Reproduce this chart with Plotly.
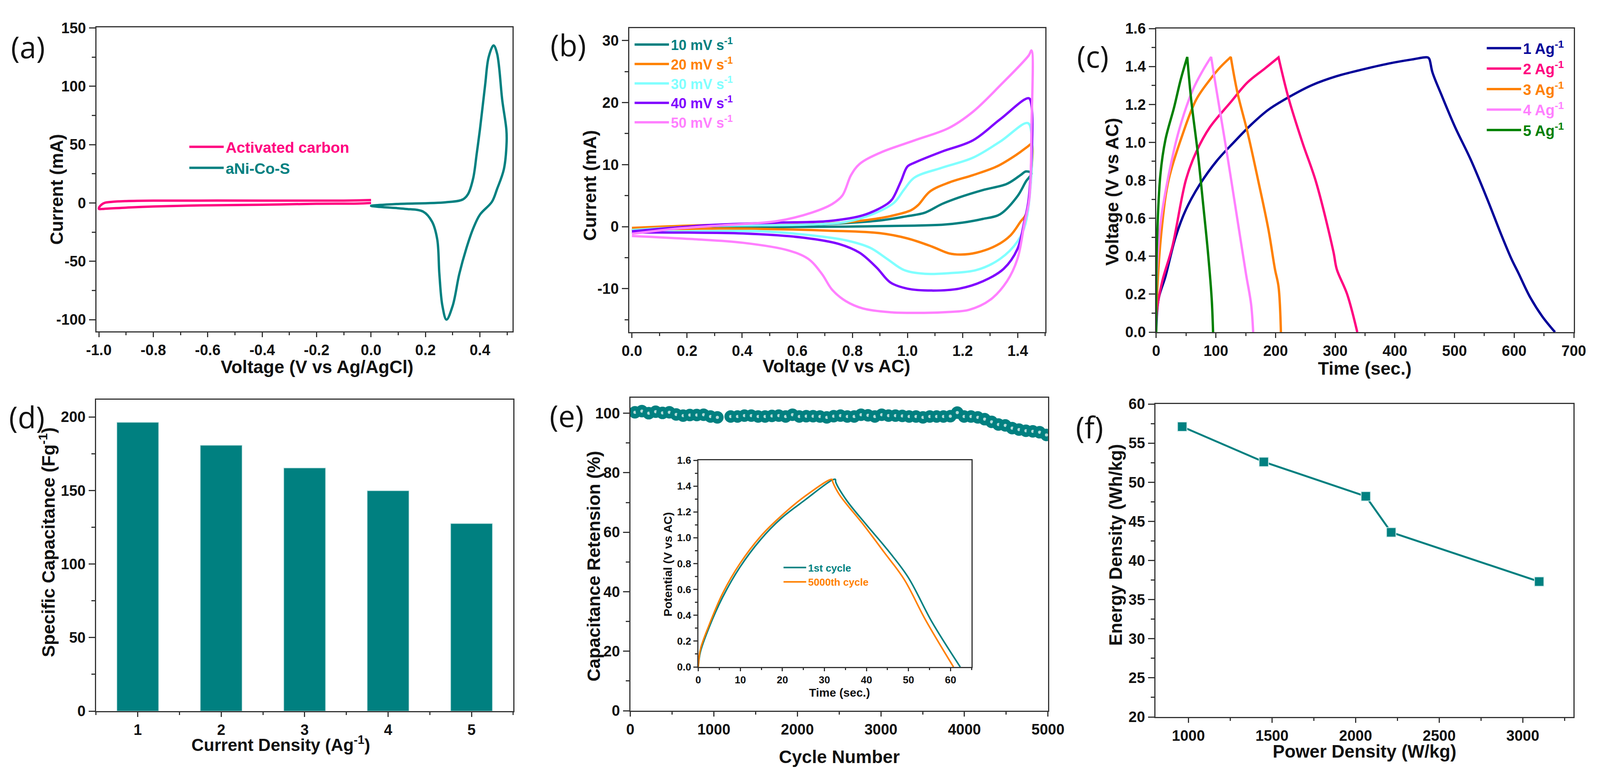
import plotly.graph_objects as go

W, H = 4168, 1981
TEAL = "#008080"
ORANGE = "#ff8000"
CYAN = "#80ffff"
PURPLE = "#8000ff"
PINK = "#ff80ff"
HOTPINK = "#ff0080"
BLUE = "#000099"
GREEN = "#008000"
AXIS = "#333333"
FONT = "Liberation Sans"

# (a) cyclic voltammograms
ac_x = [0, -0.1, -0.4, -0.8, -0.9, -0.95, -0.98, -0.995, -1.0, -0.98, -0.9, -0.8, -0.6, -0.4, -0.2, -0.05, 0]
ac_y = [2.5, 2, 2, 2, 1.6, 1, 0, -2.5, -5, -5, -4, -3, -2, -1.5, -0.7, -0.5, 0]
nico_x = [0, 0.085, 0.274, 0.337, 0.356, 0.375, 0.388, 0.4, 0.419, 0.432, 0.45, 0.463, 0.482, 0.497, 0.498, 0.488,
          0.463, 0.444, 0.4, 0.375, 0.35, 0.324, 0.3, 0.277, 0.262, 0.251, 0.243, 0.224, 0.192, 0.123, 0.022, 0]
nico_y = [-2.5, -1, 0.6, 3, 7.5, 21, 42, 63, 101, 125, 135, 128, 88, 63, 52, 29,
          12, 1, -10, -22, -39, -61, -88, -100, -88, -61, -31, -16, -7.5, -5, -3.2, -2.5]

# (b) CV at several scan rates
cv10_x = [0, 0.3, 0.6, 0.9, 1.0, 1.063, 1.125, 1.187, 1.274, 1.361, 1.41, 1.43, 1.45, 1.43, 1.399, 1.336, 1.274, 1.2, 1.125, 1.0, 0.776, 0.528, 0.34, 0]
cv10_y = [-0.5, -0.1, 0.2, 1, 1.7, 2.25, 3.65, 4.7, 5.9, 6.9, 8.3, 8.9, 8.6, 7.3, 4.9, 2, 1.25, 0.65, 0.3, 0.15, 0, -0.05, -0.05, -0.55]
cv20_x = [0, 0.28, 0.528, 0.714, 0.84, 0.938, 1.013, 1.038, 1.081, 1.15, 1.237, 1.324, 1.399, 1.436, 1.45, 1.449, 1.43, 1.411, 1.374, 1.324, 1.25, 1.193, 1.15, 1.088, 1.0, 0.9, 0.714, 0.465, 0.316, 0]
cv20_y = [-0.2, 0.25, 0.25, 0.5, 1, 1.7, 2.65, 3.45, 5.65, 7.1, 8.3, 9.7, 11.7, 12.9, 13.3, 8.5, 2, 0.85, -1.4, -3, -4.2, -4.5, -4.3, -3.2, -1.9, -1.05, -0.65, -0.35, -0.3, -0.55]
cv30_x = [0, 0.28, 0.652, 0.776, 0.876, 0.951, 0.988, 1.025, 1.125, 1.237, 1.336, 1.436, 1.45, 1.43, 1.399, 1.336, 1.25, 1.15, 1.063, 0.988, 0.926, 0.864, 0.776, 0.652, 0.465, 0]
cv30_y = [-0.55, 0.1, 0.35, 0.75, 2.05, 3.85, 6, 7.9, 9.5, 11.1, 13.7, 16.7, 15, 0.85, -2.4, -5.2, -7, -7.5, -7.6, -7, -5.2, -3.4, -2.2, -1.4, -0.75, -0.95]
cv40_x = [0, 0.28, 0.528, 0.714, 0.84, 0.926, 0.945, 0.976, 1.0, 1.025, 1.125, 1.237, 1.336, 1.44, 1.45, 1.44, 1.424, 1.399, 1.349, 1.274, 1.187, 1.088, 1.0, 0.938, 0.888, 0.826, 0.752, 0.627, 0.403, 0.154, 0]
cv40_y = [-0.75, 0.25, 0.65, 0.9, 1.85, 3.65, 4.45, 7.3, 9.7, 10.3, 12.1, 13.9, 17.3, 20.7, 19.5, 4.5, 0.85, -3.6, -6.8, -8.8, -10, -10.3, -10, -9, -6.6, -4.2, -2.8, -1.8, -1.1, -0.95, -0.95]
cv50_x = [0, 0.154, 0.34, 0.528, 0.652, 0.727, 0.764, 0.795, 0.826, 0.9, 1.025, 1.15, 1.237, 1.336, 1.44, 1.45, 1.45, 1.442, 1.424, 1.399, 1.361, 1.3, 1.224, 1.15, 1.025, 0.938, 0.839, 0.776, 0.727, 0.689, 0.64, 0.565, 0.403, 0.217, 0]
cv50_y = [-1.15, -0.35, 0.25, 0.9, 2.25, 3.65, 5.05, 8.3, 10.1, 11.9, 13.9, 15.9, 18.5, 22.75, 27.6, 28.4, 16, 4.5, 0.45, -5.2, -8.8, -11.8, -13.4, -13.75, -13.9, -13.8, -13.2, -12, -10.2, -7.6, -5.2, -3.8, -2.6, -2, -1.5]

# (c) charge / discharge, the top point is repeated so the spline keeps a sharp peak
gcd1_x = [0, 4, 15.5, 32.7, 50, 73, 101.6, 130, 159, 188, 222, 262, 302.6, 343, 389, 429, 455, 457.7, 463, 478, 501, 527, 555, 578, 595.5, 607, 626, 647, 668.4]
gcd1_y = [0, 0.175, 0.293, 0.503, 0.647, 0.778, 0.903, 1.0, 1.093, 1.172, 1.238, 1.303, 1.349, 1.382, 1.415, 1.437, 1.448, 1.44, 1.369, 1.251, 1.08, 0.91, 0.70, 0.516, 0.385, 0.312, 0.188, 0.083, 0]
gcd2_x = [0, 1, 10, 27, 50, 67, 90, 124.6, 153, 182, 205, 205, 222, 245, 268, 297, 302.6, 320, 337]
gcd2_y = [0, 0.109, 0.266, 0.45, 0.805, 0.949, 1.08, 1.211, 1.316, 1.389, 1.448, 1.448, 1.231, 1.0, 0.79, 0.424, 0.332, 0.2, 0]
gcd3_x = [0, 1, 10, 21, 44, 67, 90, 107, 125, 125, 136, 153, 170.5, 188, 199, 205, 209]
gcd3_y = [0, 0.175, 0.568, 0.805, 1.04, 1.225, 1.33, 1.395, 1.45, 1.45, 1.264, 1.054, 0.805, 0.542, 0.332, 0.24, 0]
gcd4_x = [0, 1, 7, 21, 38.5, 61.4, 78.7, 92, 92, 101.6, 118.9, 136, 150.5, 159, 162.5]
gcd4_y = [0, 0.306, 0.568, 0.83, 1.067, 1.277, 1.382, 1.45, 1.45, 1.264, 0.936, 0.595, 0.306, 0.148, 0]
gcd5_x = [0, 1, 7, 15.5, 30, 41, 52, 52, 58.6, 70, 78.7, 87, 93, 95.3]
gcd5_y = [0, 0.437, 0.83, 1.015, 1.185, 1.33, 1.45, 1.45, 1.225, 0.936, 0.673, 0.411, 0.175, 0]

# (d) specific capacitance
current_density = [1, 2, 3, 4, 5]
capacitance = [196.3, 180.7, 165.3, 149.8, 127.5]

# (e) cycling
cycles = [55, 138, 220, 303, 385, 467, 549, 632, 712, 795, 877, 960, 1042,
          1201, 1283, 1366, 1448, 1530, 1613, 1695, 1777, 1859, 1941, 2023, 2106, 2188, 2270, 2352, 2434, 2516,
          2598, 2680, 2762, 2845, 2927, 3009, 3091, 3174, 3256, 3338, 3420, 3503, 3585, 3667, 3749,
          3831, 3914, 3996, 4078, 4160, 4242, 4325, 4407, 4489, 4571, 4653, 4736, 4818, 4900, 4982]
retention = [100.3, 100.7, 100.0, 100.5, 100.1, 100.3, 99.6, 99.2, 99.4, 99.4, 99.5, 98.9, 98.6,
             98.9, 98.9, 99.2, 99.2, 98.9, 98.9, 99.1, 99.2, 98.9, 99.5, 98.9, 99.0, 99.0, 98.9, 98.6, 99.0, 99.2,
             98.9, 98.9, 99.5, 99.3, 98.9, 99.5, 99.2, 99.2, 99.1, 98.9, 98.9, 98.6, 98.9, 98.9, 98.9,
             99.0, 100.2, 98.9, 98.9, 98.6, 98.0, 97.1, 96.2, 95.9, 95.0, 94.5, 94.1, 93.9, 93.6, 92.7]

# (e) inset
first_x = [0, 0.5, 2.5, 5.8, 9.9, 14.8, 19.7, 25.4, 31.9, 32.6, 32.7, 35.2, 40, 45, 49.9, 55.6, 62.3]
first_y = [0, 0.116, 0.3, 0.54, 0.772, 0.985, 1.149, 1.293, 1.448, 1.452, 1.43, 1.293, 1.1, 0.907, 0.695, 0.347, 0]
last_x = [0, 0.5, 2.5, 5.8, 9.9, 14.8, 19.7, 25.4, 31.8, 32, 33.6, 39.3, 44.2, 49, 54, 60.7]
last_y = [0, 0.135, 0.318, 0.57, 0.8, 1.01, 1.168, 1.322, 1.452, 1.43, 1.332, 1.1, 0.888, 0.676, 0.367, 0]

# (f) ragone
power = [963, 1451, 2061, 2213, 3098]
energy = [57.1, 52.6, 48.2, 43.6, 37.3]

# tick labels that need a plain hyphen
a_x_ticks = [-1.0, -0.8, -0.6, -0.4, -0.2, 0.0, 0.2, 0.4]
a_x_labels = ["-1.0", "-0.8", "-0.6", "-0.4", "-0.2", "0.0", "0.2", "0.4"]
a_y_ticks = [-100, -50, 0, 50, 100, 150]
a_y_labels = ["-100", "-50", "0", "50", "100", "150"]
b_y_ticks = [-10, 0, 10, 20, 30]
b_y_labels = ["-10", "0", "10", "20", "30"]


# the figure fills the window, the page body keeps its 8px margin
def fx(p):
    return (p - 8) / (W - 16)


def fy(p):
    return 1 - (p - 8) / (H - 16)


def colored(text, color):
    return '<span style="color:%s">%s</span>' % (color, text)


def axis(box_lo, box_hi, rng, dtick, minor, anchor, tickfont=38, tick0=None, minor0=None, ticklen=None, horizontal=True, fmt=None):
    dom = [fx(box_lo), fx(box_hi)] if horizontal else [fy(box_hi), fy(box_lo)]
    if ticklen is None:
        ticklen = 12 if horizontal else 16
    ax = dict(domain=dom, range=rng, anchor=anchor, dtick=dtick, showgrid=False, zeroline=False, automargin=False,
              showline=True, linecolor=AXIS, linewidth=3, mirror=True, ticks="outside",
              ticklen=ticklen, tickwidth=3, tickcolor=AXIS,
              tickfont=dict(family=FONT, size=tickfont, color="#111111", weight=700),
              minor=dict(dtick=minor, ticks="outside", ticklen=ticklen // 2 + 1, tickwidth=3, tickcolor=AXIS, showgrid=False))
    if tick0 is not None:
        ax["tick0"] = tick0
    if minor0 is not None:
        ax["minor"]["tick0"] = minor0
    if fmt:
        ax["tickformat"] = fmt
    return ax


fig = go.Figure()


def add_curve(x, y, color, name, xa, ya, legend=None, width=6):
    fig.add_trace(go.Scatter(x=x, y=y, mode="lines", name=colored(name, color), xaxis=xa, yaxis=ya,
                             line=dict(color=color, width=width, shape="spline", smoothing=1.0),
                             showlegend=legend is not None, legend=legend or "legend", legendgroup=name))


add_curve(ac_x, ac_y, HOTPINK, "Activated carbon", "x", "y", "legend")
add_curve(nico_x, nico_y, TEAL, "aNi-Co-S", "x", "y", "legend")

unit_b = " mV s<sup>-1</sup>"
add_curve(cv10_x, cv10_y, TEAL, "10" + unit_b, "x2", "y2", "legend2")
add_curve(cv20_x, cv20_y, ORANGE, "20" + unit_b, "x2", "y2", "legend2")
add_curve(cv30_x, cv30_y, CYAN, "30" + unit_b, "x2", "y2", "legend2")
add_curve(cv40_x, cv40_y, PURPLE, "40" + unit_b, "x2", "y2", "legend2")
add_curve(cv50_x, cv50_y, PINK, "50" + unit_b, "x2", "y2", "legend2")

unit_c = " Ag<sup>-1</sup>"
add_curve(gcd1_x, gcd1_y, BLUE, "1" + unit_c, "x3", "y3", "legend3")
add_curve(gcd2_x, gcd2_y, HOTPINK, "2" + unit_c, "x3", "y3", "legend3")
add_curve(gcd3_x, gcd3_y, ORANGE, "3" + unit_c, "x3", "y3", "legend3")
add_curve(gcd4_x, gcd4_y, PINK, "4" + unit_c, "x3", "y3", "legend3")
add_curve(gcd5_x, gcd5_y, GREEN, "5" + unit_c, "x3", "y3", "legend3")

fig.add_trace(go.Bar(x=current_density, y=capacitance, width=0.5, xaxis="x4", yaxis="y4", showlegend=False,
                     marker=dict(color=TEAL, line=dict(color="#b5dcdc", width=1.5))))

fig.add_trace(go.Scatter(x=cycles, y=retention, mode="markers", xaxis="x5", yaxis="y5", showlegend=False,
                         marker=dict(symbol="circle", size=20, color="#b4dad8", line=dict(color=TEAL, width=12))))

add_curve(first_x, first_y, TEAL, "1st cycle", "x6", "y6", "legend4", width=4)
add_curve(last_x, last_y, ORANGE, "5000th cycle", "x6", "y6", "legend4", width=4)

fig.add_trace(go.Scatter(x=power, y=energy, mode="lines+markers", xaxis="x7", yaxis="y7", showlegend=False,
                         line=dict(color=TEAL, width=5),
                         marker=dict(symbol="square", size=24, color=TEAL, line=dict(color="#d8eeee", width=2))))

layout = dict(
    autosize=True, margin=dict(l=0, r=0, t=0, b=0, autoexpand=False), paper_bgcolor="white", plot_bgcolor="white",
    font=dict(family=FONT), bargap=0.5,
    xaxis=axis(251, 1335, [-1.009, 0.5196], 0.2, 0.1, "y", tick0=-1.0, minor0=-1.0),
    yaxis=axis(70, 848, [-110, 150.5], 50, 25, "x", tick0=0, minor0=0, horizontal=False),
    xaxis2=axis(1639, 2723, [-0.01, 1.50], 0.2, 0.1, "y2", tick0=0, minor0=0, fmt=".1f"),
    yaxis2=axis(72, 850, [-17, 32], 10, 5, "x2", tick0=0, minor0=0, horizontal=False),
    xaxis3=axis(3012, 4100, [0, 700], 100, 50, "y3", tick0=0, minor0=0),
    yaxis3=axis(73, 850, [0, 1.6], 0.2, 0.1, "x3", tick0=0, minor0=0, horizontal=False, fmt=".1f"),
    xaxis4=axis(250, 1337, [0.5, 5.5], 1, 1, "y4", tick0=1, minor0=0.5),
    yaxis4=axis(1023, 1820, [0, 211.7], 50, 25, "x4", tick0=0, minor0=0, horizontal=False),
    xaxis5=axis(1642, 2730, [0, 5000], 1000, 500, "y5", tick0=0, minor0=0),
    yaxis5=axis(1018, 1819, [0, 105.2], 20, 10, "x5", tick0=0, minor0=0, horizontal=False),
    xaxis6=axis(1819, 2531, [0, 65], 10, 5, "y6", tickfont=26, tick0=0, minor0=0, ticklen=8),
    yaxis6=axis(1178, 1707, [0, 1.6], 0.2, 0.1, "x6", tickfont=26, tick0=0, minor0=0, ticklen=10, horizontal=False, fmt=".1f"),
    xaxis7=axis(3010, 4099, [803, 3303], 500, 250, "y7", tick0=1000, minor0=1000),
    yaxis7=axis(1034, 1835, [20, 60], 5, 2.5, "x7", tick0=20, minor0=20, horizontal=False),
)
layout["xaxis"].update(tickmode="array", tickvals=a_x_ticks, ticktext=a_x_labels)
layout["yaxis"].update(tickmode="array", tickvals=a_y_ticks, ticktext=a_y_labels)
layout["yaxis2"].update(tickmode="array", tickvals=b_y_ticks, ticktext=b_y_labels)


def legend_box(x, y, size, keylen, gap):
    return dict(x=fx(x), y=fy(y), xanchor="left", yanchor="top", bgcolor="rgba(0,0,0,0)", borderwidth=0,
                font=dict(family=FONT, size=size, weight=700), itemwidth=keylen, tracegroupgap=gap, traceorder="normal")


layout["legend"] = legend_box(488, 344, 39, 88, 0)
layout["legend2"] = legend_box(1648, 84, 36, 88, 17)
layout["legend3"] = legend_box(3868, 92, 38, 88, 14)
layout["legend4"] = legend_box(2036, 1429, 26, 58, 0)
fig.update_layout(**layout)

# axis titles and panel letters placed by hand, the e panel title sits over its tick labels
titles = [
    ("Voltage (V vs Ag/AgCl)", 826, 939, 0, 46),
    ("Current (mA)", 147, 485, -90, 46),
    ("Voltage (V vs AC)", 2179, 937, 0, 46),
    ("Current (mA)", 1536, 475, -90, 46),
    ("Time (sec.)", 3555, 943, 0, 46),
    ("Voltage (V vs AC)", 2897, 491, -90, 46),
    ("Current Density (Ag<sup>-1</sup>)", 732, 1903, 0, 44),
    ("Specific Capacitance (Fg<sup>-1</sup>)", 123, 1388, -90, 46),
    ("Cycle Number", 2186, 1937, 0, 46),
    ("Capacitance Retension (%)", 1547, 1449, -90, 46),
    ("Time (sec.)", 2187, 1772, 0, 30),
    ("Potential (V vs AC)", 1739, 1444, -90, 30),
    ("Power Density (W/kg)", 3554, 1923, 0, 46),
    ("Energy Density (Wh/kg)", 2906, 1395, -90, 46),
]
for text, x, y, angle, size in titles:
    fig.add_annotation(text=text, x=fx(x), y=fy(y), xref="paper", yref="paper", showarrow=False,
                       textangle=angle, xanchor="center", yanchor="middle",
                       font=dict(family=FONT, size=size, color="#111111", weight=700))

letters = [("(a)", 73, 120), ("(b)", 1480, 115), ("(c)", 2847, 143), ("(d)", 70, 1066), ("(e)", 1476, 1063), ("(f)", 2838, 1092)]
for text, x, y in letters:
    fig.add_annotation(text=text, x=fx(x), y=fy(y), xref="paper", yref="paper", showarrow=False,
                       xanchor="center", yanchor="middle", font=dict(family="Open Sans", size=76, color="#111111"))

fig.write_html("out.html")
